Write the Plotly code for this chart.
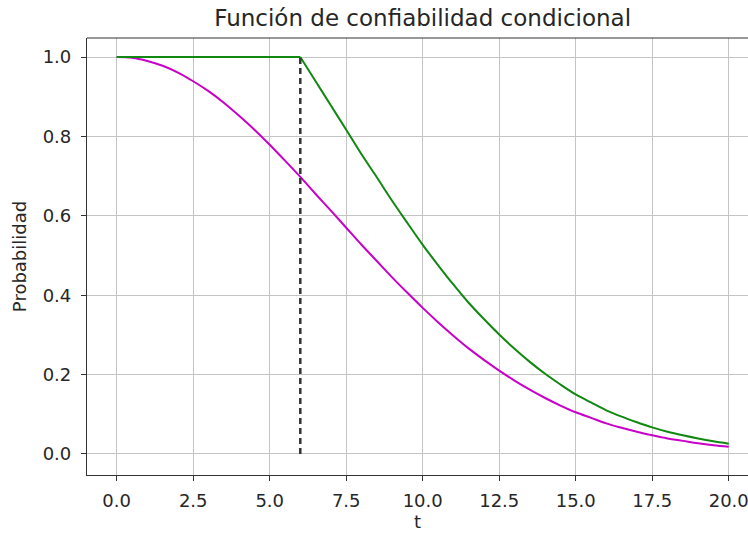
import plotly.graph_objects as go

# Time points (t)
t = [0, 0.5, 1, 1.5, 2, 2.5, 3, 3.5, 4, 4.5, 5, 5.5, 6, 6.5, 7, 7.5, 8, 8.5, 9, 9.5,
     10, 10.5, 11, 11.5, 12, 12.5, 13, 13.5, 14, 14.5, 15, 15.5, 16, 16.5, 17, 17.5,
     18, 18.5, 19, 19.5, 20]

# Magenta curve: unconditional reliability
r_uncond = [1.000, 0.998, 0.990, 0.978, 0.961, 0.939, 0.914, 0.885, 0.852, 0.817,
            0.779, 0.739, 0.698, 0.655, 0.613, 0.570, 0.527, 0.486, 0.445, 0.406,
            0.368, 0.332, 0.298, 0.266, 0.237, 0.210, 0.185, 0.162, 0.141, 0.122,
            0.105, 0.091, 0.077, 0.066, 0.056, 0.047, 0.039, 0.033, 0.027, 0.022, 0.018]

# Green curve: conditional reliability
r_cond = [1.000, 1.000, 1.000, 1.000, 1.000, 1.000, 1.000, 1.000, 1.000, 1.000,
          1.000, 1.000, 1.000, 0.939, 0.878, 0.817, 0.755, 0.697, 0.638, 0.582,
          0.527, 0.476, 0.427, 0.381, 0.340, 0.301, 0.265, 0.232, 0.202, 0.175,
          0.150, 0.130, 0.110, 0.094, 0.080, 0.067, 0.056, 0.047, 0.039, 0.032, 0.026]

# Dashed marker at the conditioning time
t_cond = [6, 6]
p_cond = [0, 1]

x_ticks = [0, 2.5, 5, 7.5, 10, 12.5, 15, 17.5, 20]
x_tick_labels = ["0.0", "2.5", "5.0", "7.5", "10.0", "12.5", "15.0", "17.5", "20.0"]
y_ticks = [0, 0.2, 0.4, 0.6, 0.8, 1.0]
y_tick_labels = ["0.0", "0.2", "0.4", "0.6", "0.8", "1.0"]

k = t.index(t_cond[0])

fig = go.Figure()
fig.add_trace(go.Scatter(x=t, y=r_uncond, mode="lines",
                         line=dict(color="#c800c8", width=2, shape="spline"),
                         showlegend=False))
fig.add_trace(go.Scatter(x=t[:k + 1], y=r_cond[:k + 1], mode="lines",
                         line=dict(color="#118811", width=2),
                         showlegend=False))
fig.add_trace(go.Scatter(x=t[k:], y=r_cond[k:], mode="lines",
                         line=dict(color="#118811", width=2, shape="spline", smoothing=0.8),
                         showlegend=False))
fig.add_trace(go.Scatter(x=t_cond, y=p_cond, mode="lines",
                         line=dict(color="#333333", width=2.5, dash="6px,4px"),
                         showlegend=False))

# top spine (no right spine visible in the reference)
fig.add_shape(type="line", xref="paper", yref="paper", x0=0, x1=1, y0=1, y1=1,
              line=dict(color="#333333", width=1.2))

font_family = "DejaVu Sans"
fig.update_layout(
    width=748, height=537,
    margin=dict(l=87, r=0, t=38, b=62),
    paper_bgcolor="white", plot_bgcolor="white",
    font=dict(family=font_family, size=18, color="#262626"),
    title=dict(text="Función de confiabilidad condicional", x=0.565, xanchor="center",
               y=0.967, yanchor="middle", font=dict(size=23, color="#262626")),
)
fig.update_xaxes(
    range=[-0.97, 20.63], tickvals=x_ticks, ticktext=x_tick_labels,
    showgrid=True, gridcolor="#c4c4c4", gridwidth=1,
    showline=True, linecolor="#333333", linewidth=1.2, mirror=False,
    ticks="outside", ticklen=5, tickcolor="#333333",
    zeroline=False, tickfont=dict(size=18), ticklabelstandoff=4,
    ticklabeloverflow="allow",
    title=dict(text="t", standoff=5, font=dict(size=18)),
)
fig.update_yaxes(
    range=[-0.053, 1.048], tickvals=y_ticks, ticktext=y_tick_labels,
    showgrid=True, gridcolor="#c4c4c4", gridwidth=1,
    showline=True, linecolor="#333333", linewidth=1.2, mirror=False,
    ticks="outside", ticklen=5, tickcolor="#333333",
    zeroline=False, tickfont=dict(size=18), ticklabelstandoff=6,
    title=dict(text="Probabilidad", standoff=11, font=dict(size=18)),
)

fig.write_html("out.html")
